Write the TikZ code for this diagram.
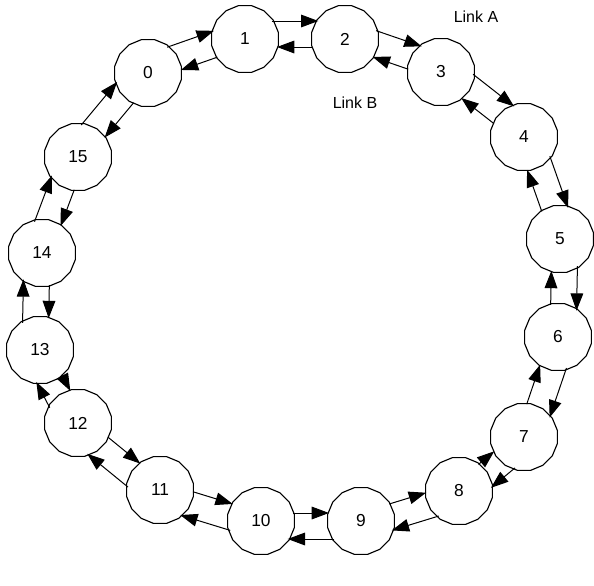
\documentclass[tikz,border=0pt]{standalone}
\usepackage{fontspec}
\setmainfont{Liberation Sans}
\usetikzlibrary{calc,arrows.meta,shapes.geometric}
\tikzset{
  ringnode/.style={draw, line width=0.85pt, regular polygon, regular polygon sides=16,
    minimum size=51pt, inner sep=0pt, font=\fontsize{13}{15}\selectfont},
  linkarrow/.style={line width=0.75pt, -{Triangle[length=13pt,width=9.5pt]}},
  linklabel/.style={font=\fontsize{12}{14}\selectfont}
}
\begin{document}
\begin{tikzpicture}[x=0.75pt,y=-0.75pt]
\useasboundingbox (0,0) rectangle (594,586);
% ring of sixteen stations
\foreach \k/\px/\py in {0/148/73,1/245/39,2/345/39,3/441/72,4/524/137,5/560/239,
  6/558/337,7/524/437,8/459/491,9/361/521,10/261/521,11/160/490,12/78/423,
  13/40/350,14/42/253,15/78/157}
  \node[ringnode] (n\k) at (\px,\py) {\k};
% outer link runs clockwise, inner link runs counter-clockwise
\def\dout{13.5pt}
\def\din{6pt}
\foreach \i/\j in {0/1,1/2,2/3,3/4,4/5,5/6,6/7,7/8,8/9,9/10,10/11,11/12,12/13,13/14,14/15,15/0}{
  \draw[linkarrow, shorten <=20pt, shorten >=20pt]
    ($(n\i)!\dout!90:(n\j)$) -- ($(n\j)!\dout!-90:(n\i)$);
  \draw[linkarrow, shorten <=24pt, shorten >=24pt]
    ($(n\j)!\din!90:(n\i)$) -- ($(n\i)!\din!-90:(n\j)$);
}
\node[linklabel] (la) at (476,17) {Link A};
\node[linklabel] (lb) at (355,103) {Link B};
\end{tikzpicture}
\end{document}
